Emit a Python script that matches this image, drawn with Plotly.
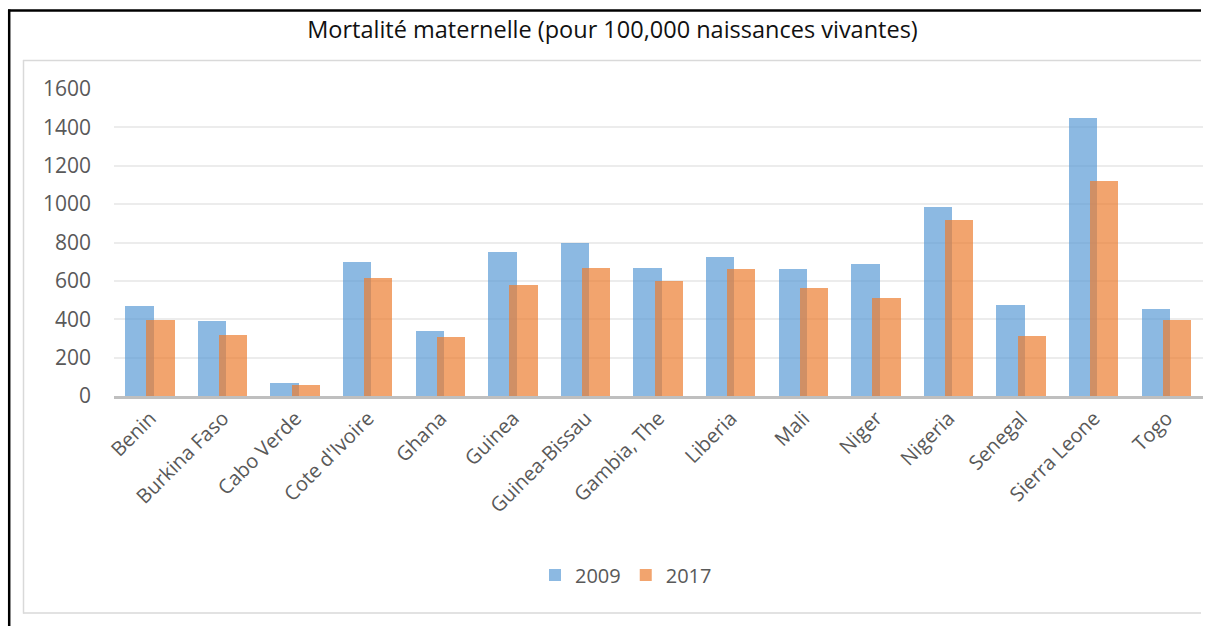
import plotly.graph_objects as go

# Maternal mortality ratio (per 100,000 live births), West African countries
countries = ["Benin", "Burkina Faso", "Cabo Verde", "Cote d'Ivoire", "Ghana", "Guinea",
             "Guinea-Bissau", "Gambia, The", "Liberia", "Mali", "Niger", "Nigeria",
             "Senegal", "Sierra Leone", "Togo"]
mmr_2009 = [470, 392, 70, 700, 340, 750, 800, 668, 724, 662, 690, 985, 472, 1450, 456]
mmr_2017 = [397, 320, 58, 617, 308, 576, 667, 597, 661, 562, 509, 917, 315, 1120, 396]
y_ticks = [0, 200, 400, 600, 800, 1000, 1200, 1400, 1600]

W, H = 1205, 626
PX_L, PX_R, PX_T, PX_B = 114, 1203, 89, 396
FONT = "Open Sans"
GREY_TXT = "#595959"


def px_x(px):
    return (px - PX_L) / (PX_R - PX_L)


def px_y(py):
    return (PX_B - py) / (PX_B - PX_T)


fig = go.Figure()
fig.add_trace(go.Bar(
    x=countries, y=mmr_2009, name="2009",
    width=0.39, offset=-0.345,
    marker=dict(color="rgba(91,155,213,0.7)", line=dict(width=0)),
))
fig.add_trace(go.Bar(
    x=countries, y=mmr_2017, name="2017",
    width=0.39, offset=-0.055,
    marker=dict(color="rgba(237,125,49,0.7)", line=dict(width=0)),
))


def hline(x0, x1, y, color, width):
    return dict(type="line", xref="paper", yref="paper",
                x0=px_x(x0), x1=px_x(x1), y0=px_y(y), y1=px_y(y),
                line=dict(color=color, width=width), layer="below")


def vline(x, y0, y1, color, width):
    return dict(type="line", xref="paper", yref="paper",
                x0=px_x(x), x1=px_x(x), y0=px_y(y0), y1=px_y(y1),
                line=dict(color=color, width=width), layer="below")


shapes = [
    # outer black frame (open to the right and bottom)
    hline(8, 1201, 10.5, "black", 2.5),
    vline(9.2, 9.5, 626, "black", 2.5),
    # inner chart-area frame
    hline(23, 1201, 60.5, "#d9d9d9", 1.5),
    hline(23, 1201, 613, "#d9d9d9", 1.5),
    vline(23.5, 60, 613.5, "#d9d9d9", 1.5),
]

fig.update_layout(
    width=W, height=H,
    margin=dict(l=PX_L, r=W - PX_R, t=PX_T, b=H - PX_B, autoexpand=False),
    paper_bgcolor="white", plot_bgcolor="white",
    barmode="overlay",
    shapes=shapes,
    title=dict(text="Mortalité maternelle (pour 100,000 naissances vivantes)",
               x=px_x(612.5), xref="paper", xanchor="center",
               y=1 - 30 / H, yref="container", yanchor="middle",
               font=dict(family=FONT, size=23.5, color="#111111")),
    font=dict(family=FONT, size=19, color=GREY_TXT),
    legend=dict(orientation="h", x=px_x(626), xanchor="center",
                y=px_y(575), yanchor="middle",
                font=dict(family=FONT, size=20, color=GREY_TXT),
                itemwidth=30, traceorder="normal"),
    xaxis=dict(tickangle=-45, showgrid=False, showline=True,
               linecolor="#bfbfbf", linewidth=2.5, ticks="",
               tickfont=dict(family=FONT, size=20, color=GREY_TXT),
               range=[-0.5, len(countries) - 0.5]),
    yaxis=dict(range=[0, 1600], tickvals=y_ticks, showgrid=True,
               gridcolor="#ececec", gridwidth=1.5, zeroline=False,
               showline=False, ticks="", ticklabelstandoff=22,
               tickfont=dict(family=FONT, size=21, color=GREY_TXT)),
    bargap=0,
)

fig.write_html("out.html", config={"displayModeBar": False})
